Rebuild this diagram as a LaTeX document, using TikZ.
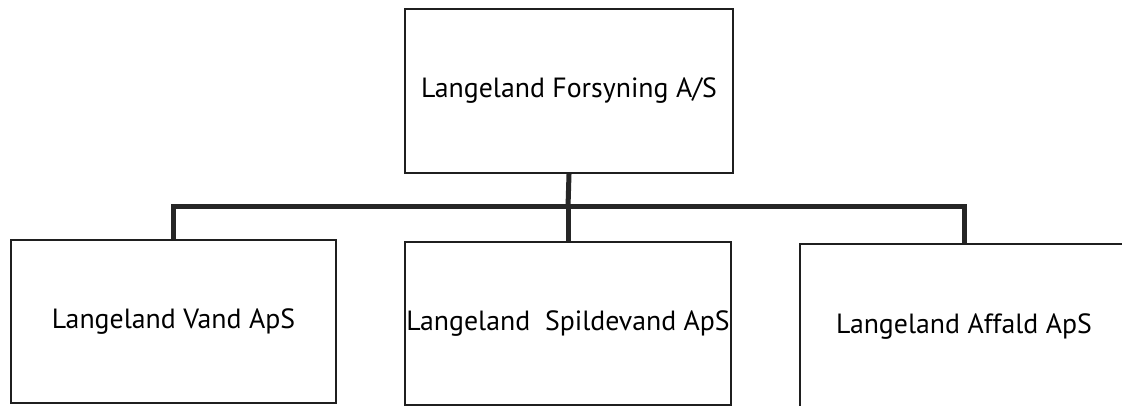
\documentclass[tikz,border=0pt]{standalone}
\usepackage{fontspec}
\setmainfont{PT Sans}
\begin{document}
\begin{tikzpicture}[x=1pt,y=-1pt,
  box/.style={draw=black!88, line width=2.2pt, inner sep=0pt, align=center,
    font=\fontsize{27.8}{32}\selectfont, text=black},
  conn/.style={draw=black!85, line width=5pt, line join=miter}]
\useasboundingbox (0,0) rectangle (1122,406);
\clip (0,0) rectangle (1122,406);
\fill[white] (0,0) rectangle (1122,406);
\node[box, minimum width=328pt, minimum height=164pt] (top) at (569,91) {Langeland Forsyning A/S};
\node[box, minimum width=325pt, minimum height=163pt] (vand) at (173.5,321.5) {Langeland Vand ApS};
\node[box, minimum width=326pt, minimum height=163pt] (spild) at (568,323.5) {\raisebox{-6pt}{Langeland\ \ Spildevand ApS}};
\node[box, minimum width=328pt, minimum height=166pt] (affald) at (964,327) {Langeland Affald ApS};
\coordinate (bus) at (568,207);
\draw[conn] (top.south) -- (bus);
\draw[conn] (vand.north) |- (bus) -| (affald.north);
\draw[conn] (bus) -- (spild.north);
\end{tikzpicture}
\end{document}
